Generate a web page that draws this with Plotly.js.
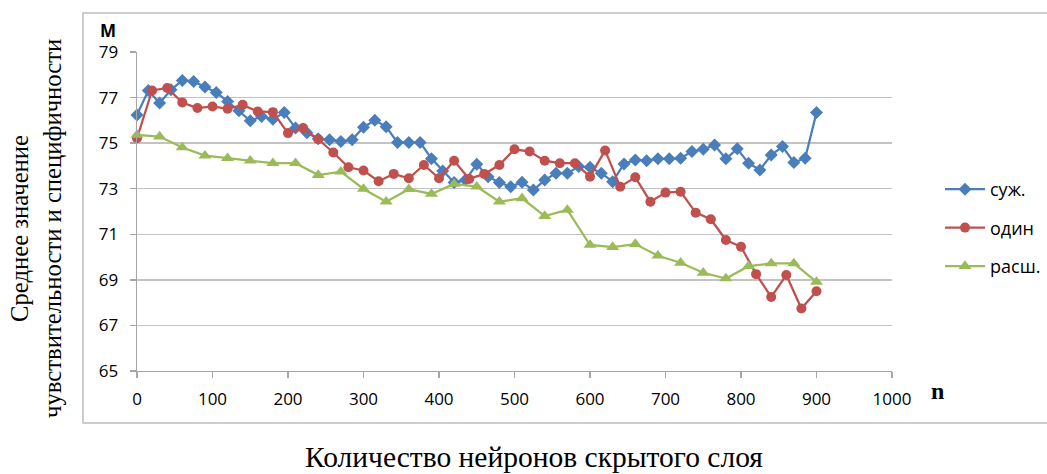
<!DOCTYPE html>
<html>
<head>
<meta charset="utf-8">
<script src="https://cdn.plot.ly/plotly-3.0.1.min.js"></script>
<style>
html,body{margin:0;padding:0;background:#fff;}
#chart{width:1047px;height:474px;}
</style>
</head>
<body>
<div id="chart"></div>
<script>
// series names
const seriesNames = ["суж.", "один", "расш."];

// x values (number of hidden neurons)
const xNarrow = [0,15,30,45,60,75,90,105,120,135,150,165,180,195,210,225,240,255,270,285,300,315,330,345,360,375,390,405,420,435,450,465,480,495,510,525,540,555,570,585,600,615,630,645,660,675,690,705,720,735,750,765,780,795,810,825,840,855,870,885,900];
const xSingle = [0,20,40,60,80,100,120,140,160,180,200,220,240,260,280,300,320,340,360,380,400,420,440,460,480,500,520,540,560,580,600,620,640,660,680,700,720,740,760,780,800,820,840,860,880,900];
const xWide = [0,30,60,90,120,150,180,210,240,270,300,330,360,390,420,450,480,510,540,570,600,630,660,690,720,750,780,810,840,870,900];

// mean of sensitivity and specificity
const yNarrow = [76.24,77.31,76.76,77.34,77.75,77.71,77.46,77.22,76.83,76.42,75.98,76.17,76.05,76.34,75.66,75.46,75.19,75.15,75.07,75.15,75.7,76.0,75.72,75.03,75.03,75.03,74.32,73.78,73.27,73.38,74.07,73.53,73.27,73.09,73.28,72.94,73.38,73.68,73.68,73.97,73.94,73.68,73.31,74.09,74.26,74.23,74.31,74.31,74.34,74.63,74.73,74.92,74.31,74.75,74.12,73.82,74.48,74.85,74.15,74.34,76.34];
const ySingle = [75.22,77.31,77.42,76.78,76.54,76.61,76.51,76.68,76.39,76.36,75.44,75.66,75.17,74.59,73.94,73.8,73.33,73.65,73.46,74.04,73.46,74.23,73.43,73.65,74.04,74.73,74.63,74.23,74.12,74.12,73.53,74.68,73.09,73.5,72.43,72.83,72.87,71.95,71.66,70.75,70.45,69.25,68.25,69.21,67.74,68.5];
const yWide = [75.36,75.29,74.81,74.45,74.34,74.23,74.12,74.12,73.6,73.75,72.99,72.43,72.98,72.77,73.21,73.09,72.43,72.58,71.8,72.07,70.53,70.44,70.57,70.06,69.75,69.31,69.06,69.6,69.72,69.72,68.91];

// axis ticks
const xTicks = [0,100,200,300,400,500,600,700,800,900,1000];
const yTicks = [65,67,69,71,73,75,77,79];

// texts
const yTitleLine1 = "Среднее значение";
const yTitleLine2 = "чувствительности и специфичности";
const xTitle = "Количество нейронов скрытого слоя";
const yUnit = "M";
const xUnit = "n";

const colors = ["#4a7ebb", "#c0504d", "#9bbb59"];
const symbols = ["diamond", "circle", "triangle-up"];
const sizes = [10, 10, 11.5];

const xs = [xNarrow, xSingle, xWide];
const ys = [yNarrow, ySingle, yWide];

const traces = seriesNames.map((name, i) => ({
  type: "scatter",
  mode: "lines+markers",
  name: name,
  legendgroup: "g" + i,
  x: xs[i],
  y: ys[i],
  cliponaxis: false,
  line: {color: colors[i], width: 2.25},
  marker: {symbol: symbols[i], size: sizes[i], color: colors[i]},
  hoverinfo: "skip"
}));

const PL = 137, PR = 892, PT = 52, PB = 371;
const W = PR - PL, H = PB - PT;
const px = v => (v - PL) / W;
const py = v => (PB - v) / H;

const tickFont = {family: "Open Sans, sans-serif", size: 17, color: "#000"};
const serif = "Liberation Serif, Times New Roman, serif";

const layout = {
  width: 1047,
  height: 474,
  margin: {l: PL, r: 1047 - PR, t: PT, b: 474 - PB, pad: 0, autoexpand: false},
  paper_bgcolor: "#ffffff",
  plot_bgcolor: "#ffffff",
  showlegend: true,
  legend: {
    x: px(940), y: py(171), xanchor: "left", yanchor: "top",
    font: {family: "Open Sans, sans-serif", size: 18, color: "#000"},
    tracegroupgap: 12,
    itemwidth: 40,
    bgcolor: "rgba(0,0,0,0)"
  },
  xaxis: {
    range: [0, 1000],
    tickvals: xTicks,
    ticktext: xTicks.map(String),
    showgrid: false,
    zeroline: false,
    showline: true,
    linecolor: "#a6a6a6",
    linewidth: 1.3,
    ticks: "outside",
    ticklen: 6,
    tickcolor: "#a6a6a6",
    tickwidth: 1.3,
    tickfont: tickFont,
    ticklabelstandoff: 6,
    automargin: false,
    fixedrange: true
  },
  yaxis: {
    range: [65, 79],
    tickvals: yTicks,
    ticktext: yTicks.map(String),
    showgrid: true,
    gridcolor: "#c3c3c3",
    gridwidth: 1.5,
    zeroline: false,
    showline: true,
    linecolor: "#a6a6a6",
    linewidth: 1.3,
    ticks: "outside",
    ticklen: 6,
    tickcolor: "#a6a6a6",
    tickwidth: 1.3,
    tickfont: tickFont,
    ticklabelstandoff: 8,
    automargin: false,
    fixedrange: true
  },
  shapes: [{
    type: "rect", xref: "paper", yref: "paper",
    x0: px(83), x1: px(1060), y0: py(423), y1: py(13),
    line: {color: "#bdbdbd", width: 1.5},
    fillcolor: "rgba(0,0,0,0)", layer: "below"
  }],
  annotations: [
    {text: yTitleLine1, xref: "paper", yref: "paper", x: px(19), y: py(229),
     xanchor: "center", yanchor: "middle", showarrow: false, textangle: -90,
     font: {family: serif, size: 24.7, color: "#000"}},
    {text: yTitleLine2, xref: "paper", yref: "paper", x: px(52), y: py(229),
     xanchor: "center", yanchor: "middle", showarrow: false, textangle: -90,
     font: {family: serif, size: 24.7, color: "#000"}},
    {text: xTitle, xref: "paper", yref: "paper", x: px(534), y: py(457),
     xanchor: "center", yanchor: "middle", showarrow: false,
     font: {family: serif, size: 29.5, color: "#000"}},
    {text: "<b>" + yUnit + "</b>", xref: "paper", yref: "paper", x: px(108), y: py(31),
     xanchor: "center", yanchor: "middle", showarrow: false,
     font: {family: "Open Sans, sans-serif", size: 17, color: "#000"}},
    {text: "<b>" + xUnit + "</b>", xref: "paper", yref: "paper", x: px(937), y: py(391),
     xanchor: "center", yanchor: "middle", showarrow: false,
     font: {family: serif, size: 24, color: "#000"}}
  ]
};

Plotly.newPlot("chart", traces, layout, {staticPlot: true, displayModeBar: false});
</script>
</body>
</html>
